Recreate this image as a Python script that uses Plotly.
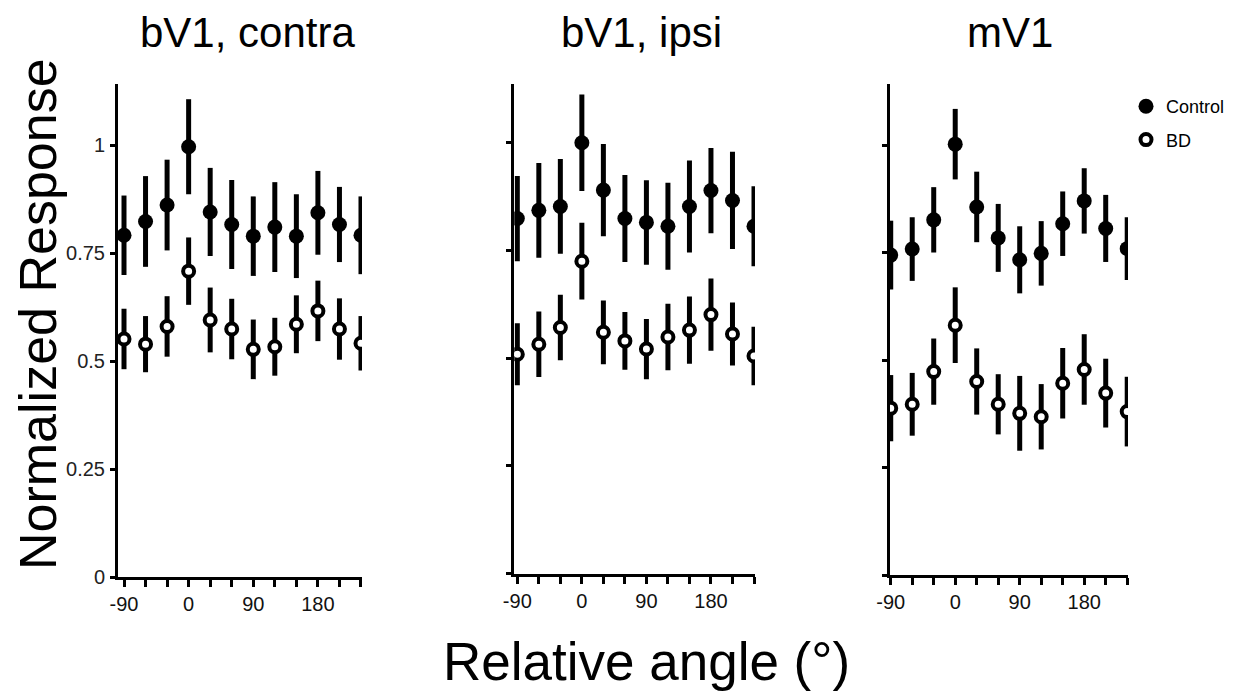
import plotly.graph_objects as go

# ---------------- data ----------------
angles = [-90, -60, -30, 0, 30, 60, 90, 120, 150, 180, 210, 240]
tick_text = ["-90", "", "", "0", "", "", "90", "", "", "180", "", ""]
y_ticks = [0, 0.25, 0.5, 0.75, 1]
y_tick_text = ["0", "0.25", "0.5", "0.75", "1"]

panel_titles = ["bV1, contra", "bV1, ipsi", "mV1"]

# bV1, contra
ctrl_contra = [0.791, 0.823, 0.861, 0.996, 0.845, 0.816, 0.789, 0.810, 0.789, 0.843, 0.816, 0.791]
ctrl_contra_err = [0.092, 0.105, 0.105, 0.110, 0.102, 0.103, 0.092, 0.104, 0.097, 0.097, 0.087, 0.090]
bd_contra = [0.551, 0.539, 0.580, 0.708, 0.595, 0.574, 0.527, 0.533, 0.585, 0.616, 0.574, 0.541]
bd_contra_err = [0.070, 0.065, 0.070, 0.078, 0.075, 0.070, 0.069, 0.067, 0.067, 0.070, 0.071, 0.063]

# bV1, ipsi
ctrl_ipsi = [0.824, 0.843, 0.852, 1.000, 0.890, 0.824, 0.815, 0.806, 0.852, 0.889, 0.866, 0.806]
ctrl_ipsi_err = [0.099, 0.110, 0.110, 0.112, 0.107, 0.101, 0.098, 0.101, 0.107, 0.099, 0.113, 0.093]
bd_ipsi = [0.509, 0.532, 0.571, 0.725, 0.560, 0.540, 0.521, 0.549, 0.565, 0.601, 0.556, 0.505]
bd_ipsi_err = [0.072, 0.076, 0.076, 0.089, 0.074, 0.067, 0.070, 0.077, 0.078, 0.084, 0.073, 0.068]

# mV1
ctrl_m = [0.744, 0.758, 0.826, 1.002, 0.856, 0.784, 0.733, 0.748, 0.817, 0.870, 0.806, 0.759]
ctrl_m_err = [0.080, 0.074, 0.076, 0.082, 0.082, 0.079, 0.078, 0.075, 0.075, 0.076, 0.078, 0.073]
bd_m = [0.388, 0.397, 0.473, 0.581, 0.450, 0.397, 0.376, 0.368, 0.446, 0.478, 0.423, 0.380]
bd_m_err = [0.077, 0.073, 0.077, 0.088, 0.077, 0.070, 0.087, 0.076, 0.082, 0.082, 0.080, 0.081]

# ---------------- layout geometry ----------------
# The page body has an 8px default margin, so the figure is sized to fit the window.
W, H = 1225, 686
FONT = "Liberation Sans, Arial, sans-serif"

x_dom_px = [(110, 354), (506.3, 747), (882, 1120)]
x_ranges = [(-98.35, 241.4), (-94.2, 241.4), (-91.0, 241.1)]
y_bottom_px = [569, 565.5, 567]
y_top_px = 76
y_ranges = [(0, 1.1412), (0, 1.1363), (0, 1.1419)]

panels = [
    (ctrl_contra, ctrl_contra_err, bd_contra, bd_contra_err),
    (ctrl_ipsi, ctrl_ipsi_err, bd_ipsi, bd_ipsi_err),
    (ctrl_m, ctrl_m_err, bd_m, bd_m_err),
]

fig = go.Figure()

for i, (c, ce, b, be) in enumerate(panels):
    xa = "x" if i == 0 else f"x{i+1}"
    ya = "y" if i == 0 else f"y{i+1}"
    show = (i == 2)
    fig.add_trace(go.Scatter(
        x=angles, y=c, mode="markers", name="Control", xaxis=xa, yaxis=ya,
        legendgroup="ctrl", showlegend=show,
        marker=dict(symbol="circle", size=15, color="black", line=dict(width=0)),
        error_y=dict(type="data", array=ce, visible=True, thickness=5, width=0, color="black"),
    ))
    fig.add_trace(go.Scatter(
        x=angles, y=b, mode="markers", name="BD", xaxis=xa, yaxis=ya,
        legendgroup="bd", showlegend=show,
        marker=dict(symbol="circle", size=11, color="white", line=dict(width=4, color="black")),
        error_y=dict(type="data", array=be, visible=True, thickness=5, width=0, color="black"),
    ))

layout = dict(
    width=W, height=H,
    margin=dict(l=0, r=0, t=0, b=0, autoexpand=False),
    paper_bgcolor="white", plot_bgcolor="white",
    font=dict(family=FONT, color="black"),
    showlegend=True,
    legend=dict(x=1118 / W, y=1 - 80 / H, xanchor="left", yanchor="top",
                font=dict(size=18, family=FONT, color="black"),
                bgcolor="rgba(0,0,0,0)", itemwidth=30, tracegroupgap=7,
                traceorder="grouped"),
)

for i in range(3):
    xk = "xaxis" if i == 0 else f"xaxis{i+1}"
    yk = "yaxis" if i == 0 else f"yaxis{i+1}"
    ya = "y" if i == 0 else f"y{i+1}"
    xa = "x" if i == 0 else f"x{i+1}"
    layout[xk] = dict(
        domain=[x_dom_px[i][0] / W, x_dom_px[i][1] / W],
        range=list(x_ranges[i]), anchor=ya,
        tickmode="array", tickvals=angles, ticktext=tick_text,
        ticks="outside", ticklen=7, tickwidth=3, tickcolor="black",
        showline=True, linewidth=3, linecolor="black",
        showgrid=False, zeroline=False,
        tickfont=dict(size=20, family=FONT, color="#111"),
    )
    layout[yk] = dict(
        domain=[1 - y_bottom_px[i] / H, 1 - y_top_px / H],
        range=list(y_ranges[i]), anchor=xa,
        tickmode="array", tickvals=y_ticks,
        ticktext=y_tick_text if i == 0 else [""] * len(y_ticks),
        ticks="outside", ticklen=5, tickwidth=3, tickcolor="black",
        showline=True, linewidth=3, linecolor="black",
        showgrid=False, zeroline=False,
        tickfont=dict(size=20, family=FONT, color="#222"),
        ticklabelstandoff=1,
    )

fig.update_layout(**layout)

title_x_px = [239, 633, 1002]
annotations = []
for t, xp in zip(panel_titles, title_x_px):
    annotations.append(dict(text=t, x=xp / W, y=1.0, xref="paper", yref="paper",
                            xanchor="center", yanchor="top", showarrow=False, borderpad=0,
                            font=dict(size=42, family=FONT, color="black")))
annotations.append(dict(text="Normalized Response", x=0.0, y=1 - 306 / H,
                        xref="paper", yref="paper", xanchor="left", yanchor="middle",
                        textangle=-90, showarrow=False, borderpad=0,
                        font=dict(size=52, family=FONT, color="black")))
annotations.append(dict(text="Relative angle (°)", x=638 / W, y=1 - 653 / H,
                        xref="paper", yref="paper", xanchor="center", yanchor="middle",
                        showarrow=False,
                        font=dict(size=53, family=FONT, color="black")))
fig.update_layout(annotations=annotations)

fig.write_html("out.html")
